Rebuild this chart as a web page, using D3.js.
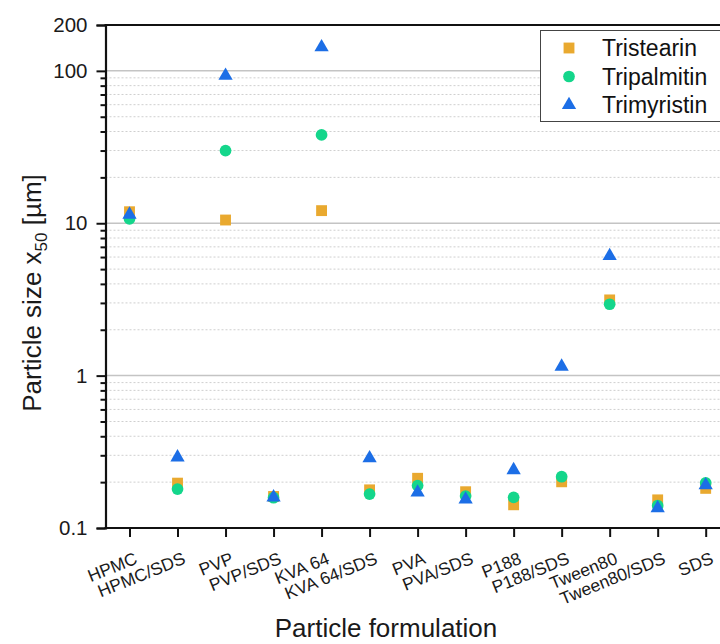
<!DOCTYPE html>
<html>
<head>
<meta charset="utf-8">
<script src="https://cdn.jsdelivr.net/npm/d3@7"></script>
<style>
  body { margin: 0; background: #fff; }
  svg { display: block; font-family: "Liberation Sans", Arial, sans-serif; }
</style>
</head>
<body>
<svg id="chart" width="720" height="644"></svg>
<script>
// formulations on the x axis
const formulations = ['HPMC', 'HPMC/SDS', 'PVP', 'PVP/SDS', 'KVA 64', 'KVA 64/SDS',
    'PVA', 'PVA/SDS', 'P188', 'P188/SDS', 'Tween80', 'Tween80/SDS', 'SDS'];

// x50 in µm
const tristearin  = [11.9, 0.197, 10.5, 0.161, 12.1, 0.178, 0.212, 0.173, 0.142, 0.201, 3.14, 0.153, 0.182];
const tripalmitin = [10.7, 0.180, 30.0, 0.158, 38.0, 0.167, 0.190, 0.162, 0.159, 0.217, 2.94, 0.140, 0.198];
const trimyristin = [11.4, 0.291, 92.9, 0.159, 143, 0.287, 0.171, 0.154, 0.240, 1.146, 6.10, 0.135, 0.191];

const seriesNames = ['Tristearin', 'Tripalmitin', 'Trimyristin'];
const majorTicks = [0.1, 1, 10, 100, 200];
const gridMajor = [1, 10, 100];

const series = [
    { name: seriesNames[0], values: tristearin, symbol: d3.symbolSquare, size: 118, color: '#E9A92F' },
    { name: seriesNames[1], values: tripalmitin, symbol: d3.symbolCircle, size: 108, color: '#14D68B' },
    { name: seriesNames[2], values: trimyristin, symbol: d3.symbolTriangle, size: 88, color: '#1C6EE6' },
];

const svg = d3.select('#chart');
const plotL = 105.5, plotR = 729.7, plotT = 25, plotB = 528;

const x = d3.scalePoint().domain(formulations).range([plotL, plotR]).padding(0.5);
const y = d3.scaleLog().domain([0.1, 200]).range([plotB, plotT]);

// minor values 2..9 per decade
const minorTicks = [];
[0.1, 1, 10].forEach(dec => {
    for (let k = 2; k <= 9; k++) minorTicks.push(+(dec * k).toPrecision(3));
});

// grid
const grid = svg.append('g');
grid.append('g').selectAll('line')
    .data(minorTicks)
    .join('line')
    .attr('x1', plotL).attr('x2', plotR)
    .attr('y1', d => y(d)).attr('y2', d => y(d))
    .attr('stroke', '#cfcfcf')
    .attr('stroke-width', 1)
    .attr('stroke-dasharray', '2,2');
grid.append('g').selectAll('line')
    .data(gridMajor)
    .join('line')
    .attr('x1', plotL).attr('x2', plotR)
    .attr('y1', d => y(d)).attr('y2', d => y(d))
    .attr('stroke', '#c4c4c4')
    .attr('stroke-width', 1.5);

// top frame
svg.append('line')
    .attr('x1', plotL - 1).attr('x2', plotR)
    .attr('y1', plotT).attr('y2', plotT)
    .attr('stroke', '#111').attr('stroke-width', 2);

// y axis: minor ticks then major ticks with labels
svg.append('g')
    .attr('transform', `translate(${plotL},0)`)
    .call(d3.axisLeft(y).tickValues(minorTicks).tickSize(5).tickFormat(''))
    .call(g => g.select('.domain').remove())
    .selectAll('line').attr('stroke', '#111').attr('stroke-width', 2);

const yAxis = svg.append('g')
    .attr('transform', `translate(${plotL},0)`)
    .call(d3.axisLeft(y).tickValues(majorTicks).tickSize(9).tickPadding(9).tickFormat(d => String(d)));
yAxis.select('.domain').attr('stroke', '#111').attr('stroke-width', 2.2);
yAxis.selectAll('line').attr('stroke', '#111').attr('stroke-width', 2);
yAxis.selectAll('text')
    .attr('font-size', 20.5)
    .attr('fill', '#1a1a1a')
    .attr('font-family', '"Liberation Sans", Arial, sans-serif');

// x axis, labels drawn separately so the slant is explicit
const xAxis = svg.append('g')
    .attr('transform', `translate(0,${plotB})`)
    .call(d3.axisBottom(x).tickSize(9).tickSizeOuter(0).tickFormat(''));
xAxis.select('.domain')
    .attr('d', `M${plotL - 1},0H${plotR}`)
    .attr('stroke', '#111').attr('stroke-width', 2.2);
xAxis.selectAll('line').attr('stroke', '#111').attr('stroke-width', 2);

svg.append('g')
    .selectAll('text')
    .data(formulations)
    .join('text')
    .attr('transform', d => `translate(${x(d) + 9},${plotB + 35}) rotate(-22)`)
    .attr('text-anchor', 'end')
    .attr('font-size', 17.5)
    .attr('fill', '#1a1a1a')
    .text(d => d);

// points
series.forEach(s => {
    svg.append('g')
        .selectAll('path')
        .data(s.values.map((v, i) => ({ cat: formulations[i], v })))
        .join('path')
        .attr('d', d3.symbol().type(s.symbol).size(s.size))
        .attr('transform', d => `translate(${x(d.cat)},${y(d.v)})`)
        .attr('fill', s.color);
});

// axis titles
svg.append('text')
    .attr('x', 386).attr('y', 637)
    .attr('text-anchor', 'middle')
    .attr('font-size', 26)
    .attr('fill', '#1a1a1a')
    .text('Particle formulation');

const yTitle = svg.append('text')
    .attr('transform', 'translate(41,293) rotate(-90)')
    .attr('text-anchor', 'middle')
    .attr('font-size', 26)
    .attr('fill', '#1a1a1a');
yTitle.append('tspan').text('Particle size x');
yTitle.append('tspan').attr('font-size', 17).attr('dy', 6).text('50');
yTitle.append('tspan').attr('dy', -6).text(' [µm]');

// legend
const legend = svg.append('g');
legend.append('rect')
    .attr('x', 540.5).attr('y', 30.5)
    .attr('width', 220).attr('height', 91)
    .attr('fill', '#fff')
    .attr('stroke', '#444').attr('stroke-width', 1);
const rowY = d3.scalePoint().domain(seriesNames).range([48, 105]);
const rows = legend.selectAll('g.row')
    .data(series)
    .join('g')
    .attr('transform', d => `translate(0,${rowY(d.name)})`);
rows.append('path')
    .attr('d', d => d3.symbol().type(d.symbol).size(d.size)())
    .attr('transform', 'translate(569,0)')
    .attr('fill', d => d.color);
rows.append('text')
    .attr('x', 602)
    .attr('dy', '0.36em')
    .attr('font-size', 23)
    .attr('fill', '#111')
    .text(d => d.name);
</script>
</body>
</html>
